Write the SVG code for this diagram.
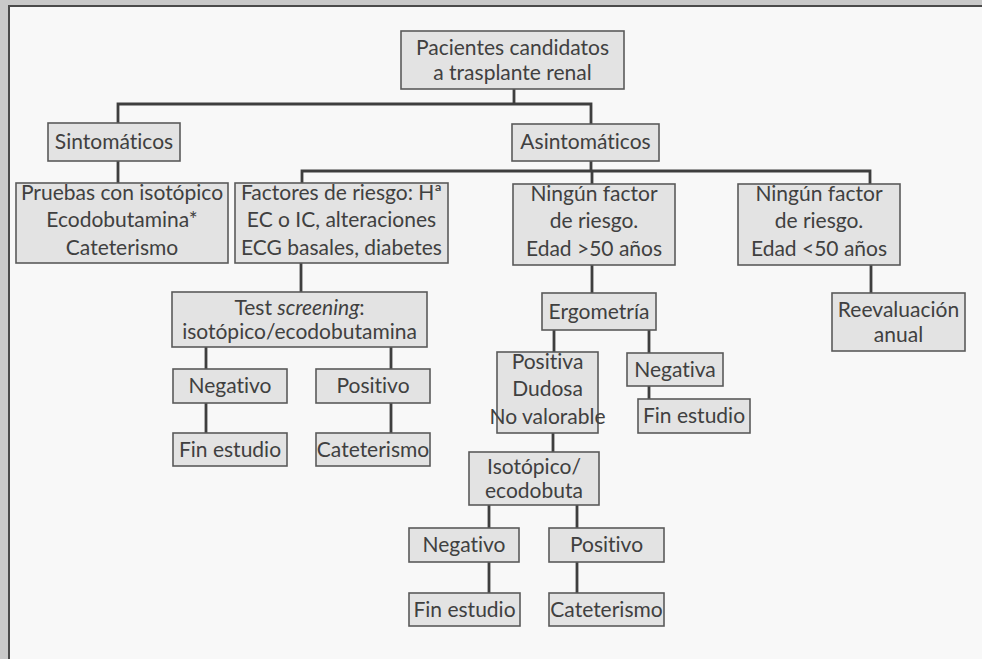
<svg xmlns="http://www.w3.org/2000/svg" width="982" height="659" viewBox="0 0 982 659">
<style>
.box{fill:#e3e3e3;stroke:#5a5a5a;stroke-width:1.6}
.t{font-family:Lato,"Open Sans","DejaVu Sans",sans-serif;font-size:21px;fill:#404040;text-anchor:middle;font-variant-ligatures:none}
.c{fill:none;stroke:#3e3e3e;stroke-width:2.8;stroke-linecap:square}
</style>
<rect x="0" y="0" width="982" height="659" fill="#c9c9c9"/>
<rect x="9" y="6" width="973" height="653" fill="#f8f8f8"/>
<path d="M9 659V6H982" fill="none" stroke="#4a4a4a" stroke-width="2"/>
<g id="connectors">
<path class="c" d="M514 89V104M118 104H591M118 104V123M591 104V124"/>
<path class="c" d="M118 161V183M591 161V171M302 171H870M302 171V183M592 171V184M870 171V184"/>
<path class="c" d="M301 263V292M206 347V369M391 347V369M206 403V433M391 403V433"/>
<path class="c" d="M592 265V293M554 330V352M649 330V353M649 386V399M871 265V293"/>
<path class="c" d="M553 433V452M489 505V528M577 505V528M489 562V593M577 562V593"/>
</g>
<g id="n_pacientes"><rect class="box" x="401" y="31" width="223" height="58"/><text class="t" x="512.5" y="55">Pacientes candidatos</text><text class="t" x="512.5" y="80">a trasplante renal</text></g>
<g id="n_sinto"><rect class="box" x="48" y="123" width="132" height="38"/><text class="t" x="114" y="149">Sintomáticos</text></g>
<g id="n_asinto"><rect class="box" x="512" y="124" width="147" height="37"/><text class="t" x="585.5" y="149">Asintomáticos</text></g>
<g id="n_pruebas"><rect class="box" x="16" y="183" width="212" height="80"/><text class="t" x="122" y="200">Pruebas con isotópico</text><text class="t" x="122" y="227">Ecodobutamina*</text><text class="t" x="122" y="255">Cateterismo</text></g>
<g id="n_factores"><rect class="box" x="235" y="183" width="213" height="80"/><text class="t" x="341.5" y="200">Factores de riesgo: Hª</text><text class="t" x="341.5" y="227">EC o IC, alteraciones</text><text class="t" x="341.5" y="255">ECG basales, diabetes</text></g>
<g id="n_ning50m"><rect class="box" x="513" y="184" width="162" height="81"/><text class="t" x="594" y="201">Ningún factor</text><text class="t" x="594" y="228">de riesgo.</text><text class="t" x="594" y="256">Edad &gt;50 años</text></g>
<g id="n_ning50l"><rect class="box" x="738" y="184" width="162" height="81"/><text class="t" x="819" y="201">Ningún factor</text><text class="t" x="819" y="228">de riesgo.</text><text class="t" x="819" y="256">Edad &lt;50 años</text></g>
<g id="n_test"><rect class="box" x="172" y="292" width="255" height="55"/><text class="t" x="299.5" y="315">Test <tspan font-style="italic">screening</tspan>:</text><text class="t" x="299.5" y="339">isotópico/ecodobutamina</text></g>
<g id="n_neg1"><rect class="box" x="173" y="369" width="114" height="34"/><text class="t" x="230" y="393">Negativo</text></g>
<g id="n_pos1"><rect class="box" x="316" y="369" width="114" height="34"/><text class="t" x="373" y="393">Positivo</text></g>
<g id="n_fin1"><rect class="box" x="173" y="433" width="114" height="33"/><text class="t" x="230" y="457">Fin estudio</text></g>
<g id="n_cat1"><rect class="box" x="316" y="433" width="114" height="33"/><text class="t" x="373" y="457">Cateterismo</text></g>
<g id="n_ergo"><rect class="box" x="542" y="293" width="114" height="37"/><text class="t" x="599" y="319">Ergometría</text></g>
<g id="n_reeval"><rect class="box" x="832" y="293" width="133" height="58"/><text class="t" x="898.5" y="317">Reevaluación</text><text class="t" x="898.5" y="342">anual</text></g>
<g id="n_positiva"><rect class="box" x="497" y="352" width="101" height="81"/><text class="t" x="547.5" y="369">Positiva</text><text class="t" x="547.5" y="396">Dudosa</text><text class="t" x="547.5" y="424">No valorable</text></g>
<g id="n_negativa"><rect class="box" x="627" y="353" width="96" height="33"/><text class="t" x="675" y="377">Negativa</text></g>
<g id="n_fin2"><rect class="box" x="638" y="399" width="112" height="34"/><text class="t" x="694" y="423">Fin estudio</text></g>
<g id="n_iso"><rect class="box" x="469" y="452" width="130" height="53"/><text class="t" x="534" y="474">Isotópico/</text><text class="t" x="534" y="498">ecodobuta</text></g>
<g id="n_neg2"><rect class="box" x="409" y="528" width="110" height="34"/><text class="t" x="464" y="552">Negativo</text></g>
<g id="n_pos2"><rect class="box" x="549" y="528" width="115" height="34"/><text class="t" x="606.5" y="552">Positivo</text></g>
<g id="n_fin3"><rect class="box" x="409" y="593" width="111" height="33"/><text class="t" x="464.5" y="617">Fin estudio</text></g>
<g id="n_cat2"><rect class="box" x="549" y="593" width="115" height="33"/><text class="t" x="606.5" y="617">Cateterismo</text></g>
</svg>
